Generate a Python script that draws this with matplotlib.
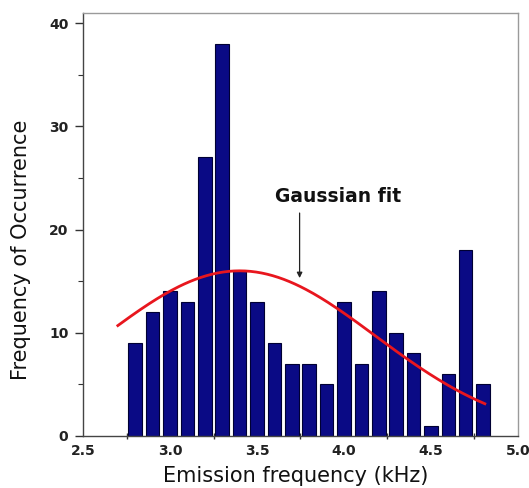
import numpy as np
import matplotlib
matplotlib.use("Agg")
import matplotlib.pyplot as plt
from matplotlib.ticker import FixedLocator

# Histogram of emission frequencies
bin_centers = [2.8, 2.9, 3.0, 3.1, 3.2, 3.3, 3.4, 3.5, 3.6, 3.7, 3.8,
               3.9, 4.0, 4.1, 4.2, 4.3, 4.4, 4.5, 4.6, 4.7, 4.8]
counts = [9, 12, 14, 13, 27, 38, 16, 13, 9, 7, 7,
          5, 13, 7, 14, 10, 8, 1, 6, 18, 5]

# Gaussian fit parameters (amplitude, centre, sigma) and plotted range
gauss_amp = 16.0
gauss_center = 3.40
gauss_sigma = 0.78
fit_start, fit_end = 2.70, 4.81

x_ticks = [2.5, 3.0, 3.5, 4.0, 4.5, 5.0]
x_tick_labels = ["2.5", "3.0", "3.5", "4.0", "4.5", "5.0"]
x_minor = [2.75, 3.25, 3.75, 4.25, 4.75]
y_ticks = [0, 10, 20, 30, 40]
y_minor = [5, 15, 25, 35]

fig = plt.figure(figsize=(5.29, 4.88), dpi=100)
ax = fig.add_axes([0.157, 0.1066, 0.822, 0.8672])

ax.bar(bin_centers, counts, width=0.078, color="#0a0a85",
       edgecolor="#000033", linewidth=0.8, zorder=2)

xf = np.linspace(fit_start, fit_end, 200)
yf = gauss_amp * np.exp(-(xf - gauss_center) ** 2 / (2 * gauss_sigma ** 2))
ax.plot(xf, yf, color="#e8161e", linewidth=2.0, zorder=3)

ax.annotate("", xy=(3.745, 15.3), xytext=(3.745, 21.6),
            arrowprops=dict(arrowstyle="-|>", color="#222222", lw=0.9,
                            mutation_scale=8, shrinkA=0, shrinkB=0))
ax.text(3.965, 23.2, "Gaussian fit", ha="center", va="center",
        fontsize=13.5, fontweight="bold", family="DejaVu Sans",
        color="#111111")

ax.set_xlim(2.5, 5.0)
ax.set_ylim(0, 41)

ax.set_xticks(x_ticks)
ax.set_xticklabels(x_tick_labels)
ax.xaxis.set_minor_locator(FixedLocator(x_minor))
ax.tick_params(axis="x", which="major", length=0, pad=6)
ax.tick_params(axis="x", which="minor", direction="inout", length=5,
               width=1.0, color="#333333")

ax.set_yticks(y_ticks)
ax.yaxis.set_minor_locator(FixedLocator(y_minor))
ax.tick_params(axis="y", which="major", direction="out", length=5.5,
               width=1.0, color="#333333", pad=5)
ax.tick_params(axis="y", which="minor", direction="out", length=3.5,
               width=0.8, color="#333333")

for lab in ax.get_xticklabels() + ax.get_yticklabels():
    lab.set_fontweight("bold")
    lab.set_fontsize(10)
    lab.set_family("DejaVu Sans")
    lab.set_color("#222222")

ax.spines["left"].set_color("#444444")
ax.spines["bottom"].set_color("#444444")
ax.spines["top"].set_color("#9a9a9a")
ax.spines["right"].set_color("#9a9a9a")
for s in ax.spines.values():
    s.set_linewidth(1.0)

ax.set_xlabel("Emission frequency (kHz)", fontsize=15, family="DejaVu Sans",
              color="#111111")
ax.xaxis.set_label_coords(0.49, -0.072)
ax.set_ylabel("Frequency of Occurrence", fontsize=15, family="DejaVu Sans",
              color="#111111")
ax.yaxis.set_label_coords(-0.12, 0.44)

fig.savefig("out.png", dpi=100)
